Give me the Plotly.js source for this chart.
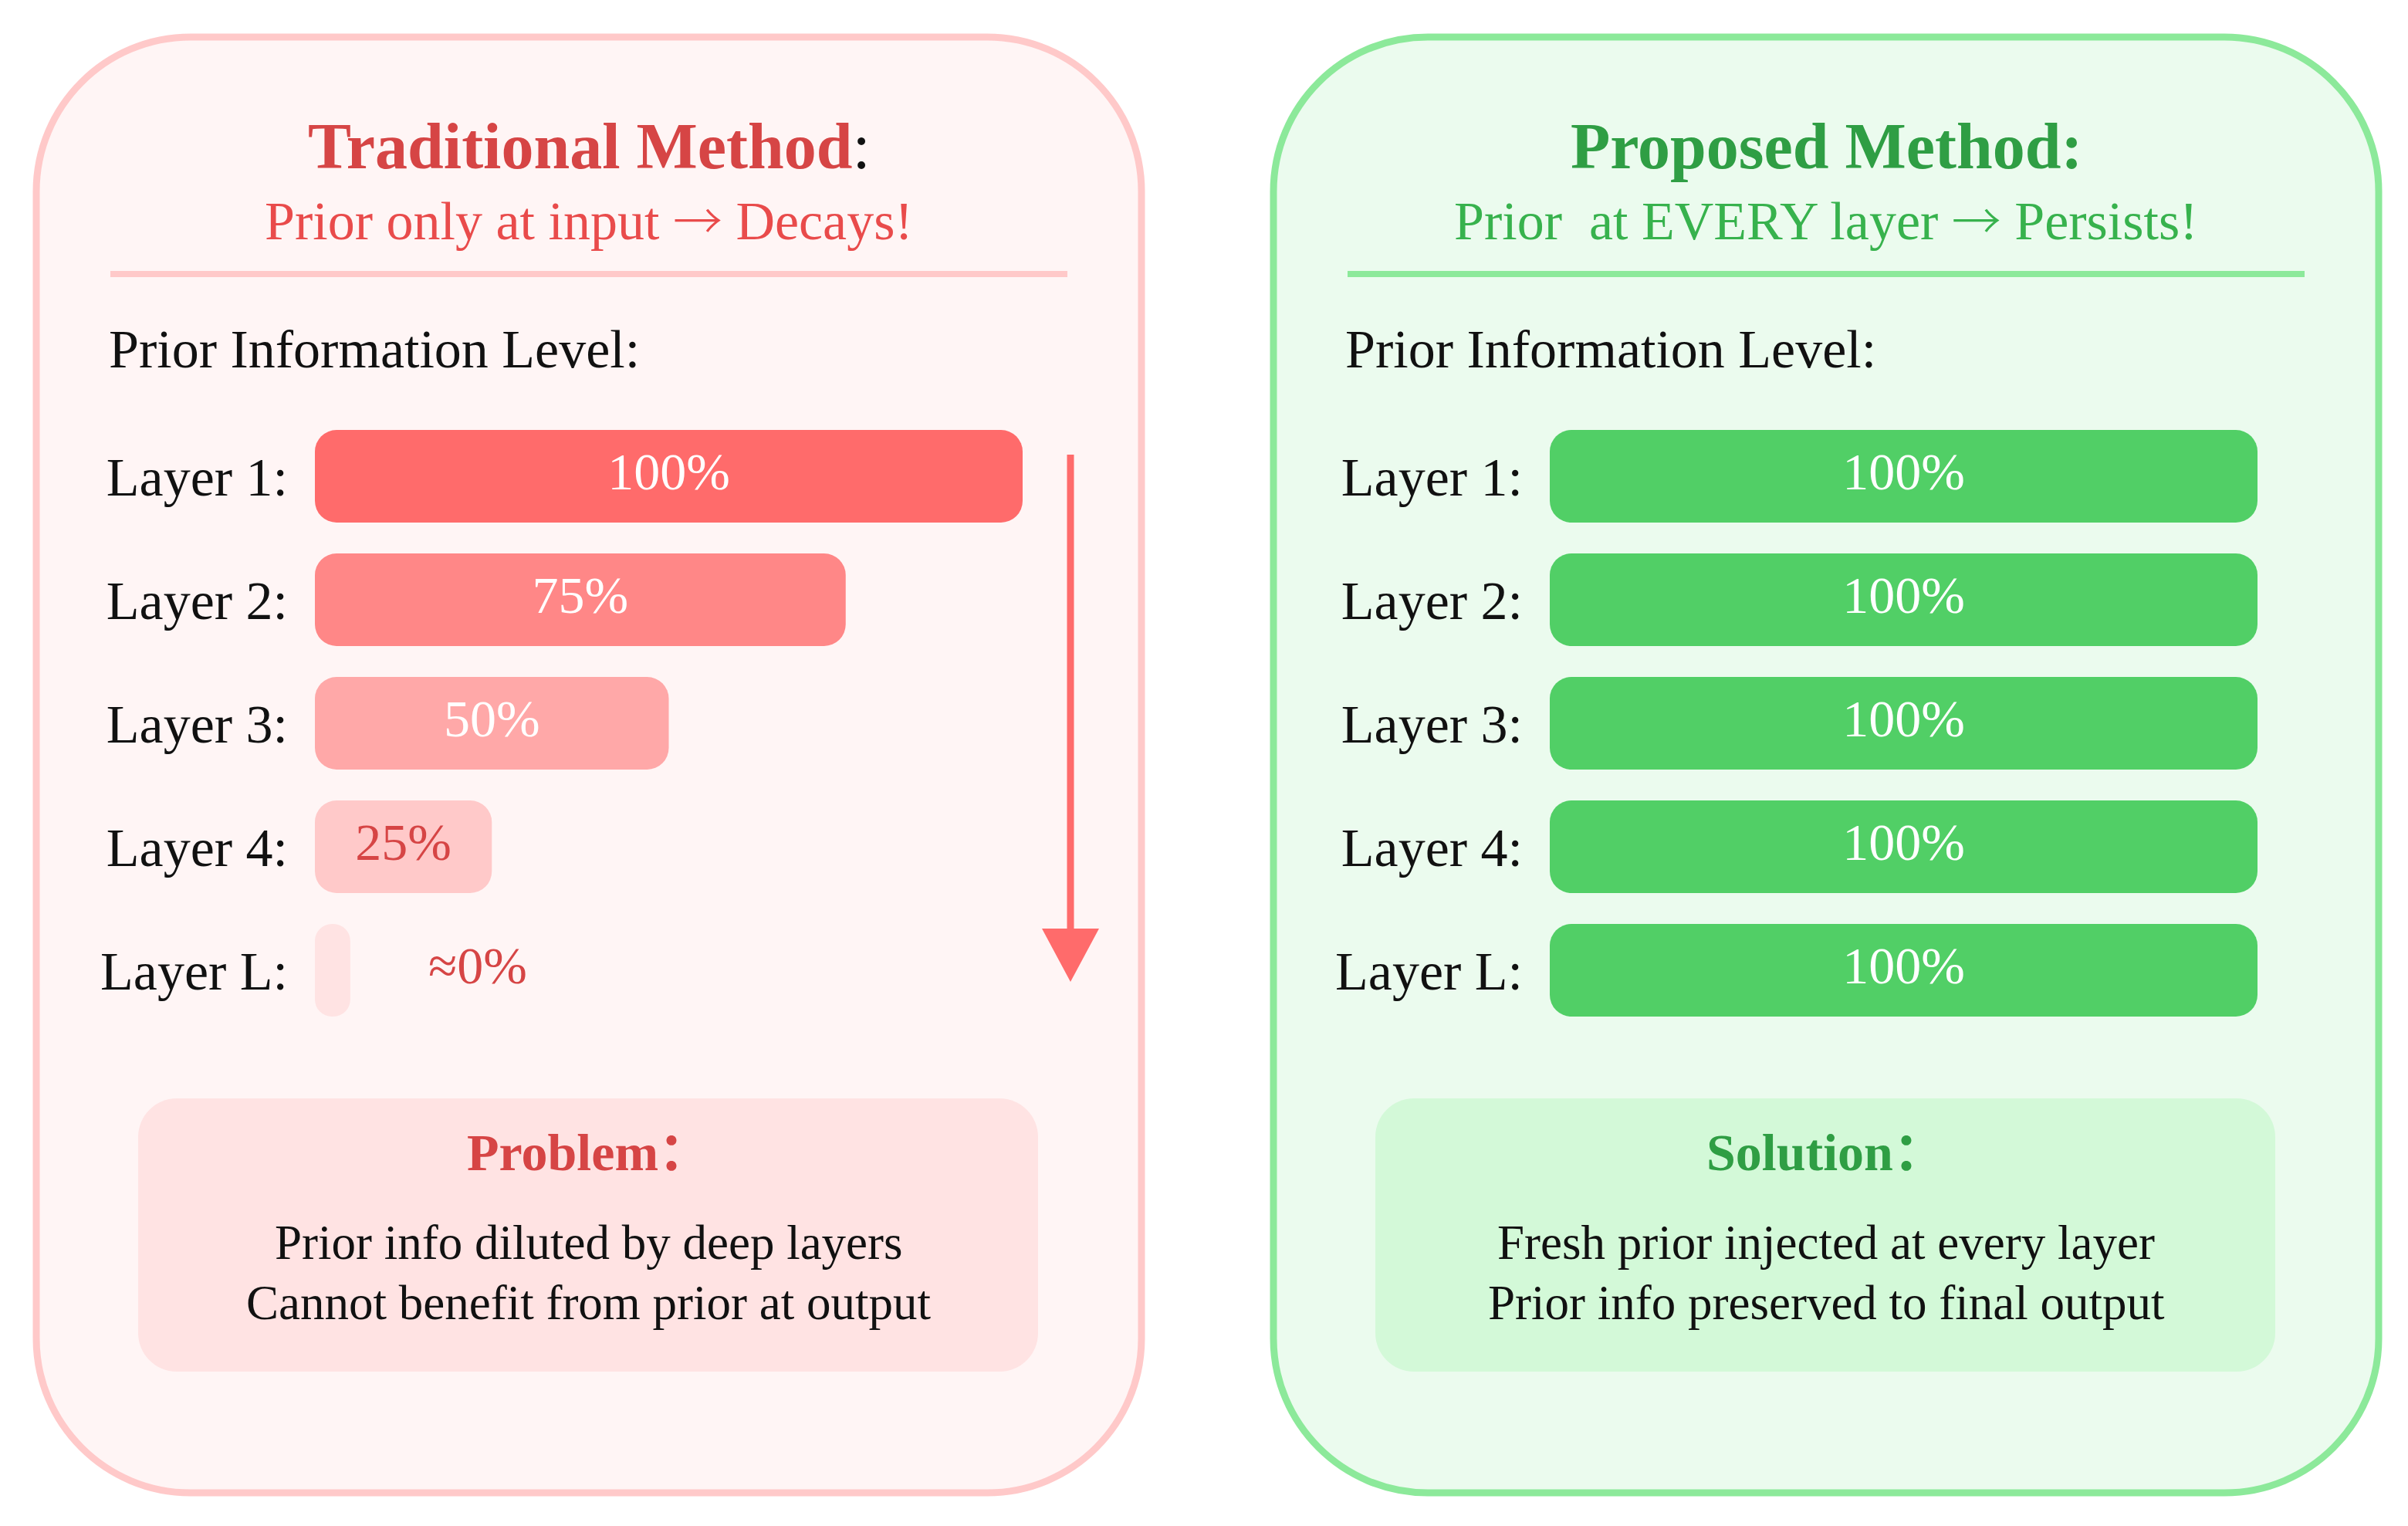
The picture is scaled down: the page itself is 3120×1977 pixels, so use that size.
<!DOCTYPE html>
<html>
<head>
<meta charset="utf-8">
<script src="https://cdn.plot.ly/plotly-3.0.1.min.js"></script>
<style>
  html, body { margin: 0; padding: 0; background: #ffffff; }
  #chart { width: 3120px; height: 1977px; }
</style>
</head>
<body>
<div id="chart"></div>
<script>

/* ==========================================
   DATA
========================================== */

const layerNames = ["Layer 1:", "Layer 2:", "Layer 3:", "Layer 4:", "Layer L:"];

// traditional: prior only at input, decays layer by layer
const tradLevels = [100, 75, 50, 25, 5];
const tradLabels = ["100%", "75%", "50%", "25%", "≈0%"];

// proposed: prior injected at every layer
const propLevels = [100, 100, 100, 100, 100];
const propLabels = ["100%", "100%", "100%", "100%", "100%"];

const tradPalette = ["#ff6b6b", "#ff8787", "#ffa8a8", "#ffc9c9", "#ffe3e3"];
const propPalette = ["#51cf66", "#51cf66", "#51cf66", "#51cf66", "#51cf66"];


/* ==========================================
   HELPERS
========================================== */

const W = 3120;
const H = 1977;
const SERIF = "Liberation Serif, Times New Roman, Noto Sans CJK SC, serif";
const ARROW = "<span style='font-family:Noto Sans CJK SC;font-weight:300;font-size:64px'>→</span>";

function roundRect(x0, y0, x1, y1, r){

    const k = 0.5523 * r;

    return "M" + (x0 + r) + "," + y0 +
        " L" + (x1 - r) + "," + y0 +
        " C" + (x1 - r + k) + "," + y0 + " " + x1 + "," + (y0 + r - k) + " " + x1 + "," + (y0 + r) +
        " L" + x1 + "," + (y1 - r) +
        " C" + x1 + "," + (y1 - r + k) + " " + (x1 - r + k) + "," + y1 + " " + (x1 - r) + "," + y1 +
        " L" + (x0 + r) + "," + y1 +
        " C" + (x0 + r - k) + "," + y1 + " " + x0 + "," + (y1 - r + k) + " " + x0 + "," + (y1 - r) +
        " L" + x0 + "," + (y0 + r) +
        " C" + x0 + "," + (y0 + r - k) + " " + (x0 + r - k) + "," + y0 + " " + (x0 + r) + "," + y0 + " Z";

}

// giving the bars an explicit base makes plotly round both ends
function pillTrace(levels, colors, xa, ya){

    return {
        type: "bar",
        orientation: "h",
        y: layerNames,
        x: levels,
        base: levels.map(() => 0),
        marker: { color: colors, cornerradius: 28, line: { width: 0 } },
        xaxis: xa, yaxis: ya,
        hoverinfo: "skip",
        showlegend: false
    };

}

function labelTrace(levels, labels, darkColor, xa, ya){

    return {
        type: "scatter",
        mode: "text",
        y: layerNames,
        x: levels.map(v => v >= 20 ? v / 2 : v + 18),
        text: labels,
        textposition: "middle center",
        textfont: {
            family: SERIF,
            size: 68,
            color: levels.map(v => v >= 50 ? "#ffffff" : darkColor)
        },
        xaxis: xa, yaxis: ya,
        hoverinfo: "skip",
        showlegend: false
    };

}


/* ==========================================
   LAYOUT PIECES
========================================== */

const panelW = 1432;
const panels = [
    { x0: 47, border: "#ffc9c9", fill: "#fff5f5", box: "#ffe3e3" },
    { x0: 1650, border: "#8ce99a", fill: "#ebfbee", box: "#d3f9d8" }
];

let shapes = [];

panels.forEach(p => {

    shapes.push({
        type: "path", xref: "x", yref: "y", layer: "below",
        path: roundRect(p.x0, 48, p.x0 + panelW, 1934, 200),
        fillcolor: p.fill,
        line: { color: p.border, width: 9 }
    });

    shapes.push({
        type: "line", xref: "x", yref: "y", layer: "below",
        x0: p.x0 + 96, x1: p.x0 + 1336, y0: 355, y1: 355,
        line: { color: p.border, width: 8 }
    });

    shapes.push({
        type: "path", xref: "x", yref: "y", layer: "below",
        path: roundRect(p.x0 + 132, 1423, p.x0 + 1298, 1777, 50),
        fillcolor: p.box,
        line: { width: 0 }
    });

});

// decay arrow
shapes.push({
    type: "line", xref: "x", yref: "y",
    x0: 1387, x1: 1387, y0: 589, y1: 1215,
    line: { color: "#ff6b6b", width: 9 }
});

shapes.push({
    type: "path", xref: "x", yref: "y",
    path: "M1350,1203 L1424,1203 L1387,1272 Z",
    fillcolor: "#ff6b6b",
    line: { width: 0 }
});


function note(x, y, text, size, color, anchor){

    return {
        xref: "x", yref: "y",
        x: x, y: y,
        text: text,
        showarrow: false,
        xanchor: anchor || "center",
        yanchor: "middle",
        font: { family: SERIF, size: size, color: color }
    };

}

const redDark = "#d64545";
const greenDark = "#2f9e44";

const annotations = [

    note(763, 189, "<b>Traditional Method</b><span style='color:#111111'>:</span>", 84, redDark),
    note(763, 282, "Prior only at input " + ARROW + " Decays!", 70, "#e94b4b"),
    note(139, 452, "Prior Information Level:", 70, "#111111", "left"),
    note(763, 1493, "<b>Problem：</b>", 68, redDark),
    note(763, 1610, "Prior info diluted by deep layers", 63, "#111111"),
    note(763, 1688, "Cannot benefit from prior at output", 63, "#111111"),

    note(2366, 189, "<b>Proposed Method:</b>", 84, greenDark),
    note(2366, 282, "Prior  at EVERY layer " + ARROW + " Persists!", 70, "#37b24d"),
    note(1741, 452, "Prior Information Level:", 70, "#111111", "left"),
    note(2366, 1493, "<b>Solution：</b>", 68, greenDark),
    note(2366, 1610, "Fresh prior injected at every layer", 63, "#111111"),
    note(2366, 1688, "Prior info preserved to final output", 63, "#111111")

];


/* ==========================================
   AXES
========================================== */

const barDomainY = [1 - 1337 / H, 1 - 537 / H];

function valueAxis(x0, x1, anchor){

    return {
        domain: [x0 / W, x1 / W],
        range: [0, 100],
        anchor: anchor,
        visible: false,
        fixedrange: true
    };

}

function layerAxis(anchor){

    return {
        domain: barDomainY,
        anchor: anchor,
        type: "category",
        categoryorder: "array",
        categoryarray: layerNames,
        range: [4.5, -0.5],
        showgrid: false,
        zeroline: false,
        showline: false,
        ticks: "",
        ticklabelstandoff: 34,
        tickfont: { family: SERIF, size: 70, color: "#111111" },
        fixedrange: true
    };

}


/* ==========================================
   DRAW
========================================== */

const frame = {
    type: "scatter", mode: "markers",
    x: [0], y: [0],
    marker: { opacity: 0 },
    hoverinfo: "skip",
    showlegend: false
};

const data = [
    frame,
    pillTrace(tradLevels, tradPalette, "x2", "y2"),
    labelTrace(tradLevels, tradLabels, redDark, "x2", "y2"),
    pillTrace(propLevels, propPalette, "x3", "y3"),
    labelTrace(propLevels, propLabels, greenDark, "x3", "y3")
];

const layout = {
    width: W,
    height: H,
    margin: { l: 0, r: 0, t: 0, b: 0 },
    paper_bgcolor: "#ffffff",
    plot_bgcolor: "rgba(0,0,0,0)",
    showlegend: false,
    barmode: "overlay",
    bargap: 0.25,
    xaxis: { domain: [0, 1], range: [0, W], visible: false, fixedrange: true },
    yaxis: { domain: [0, 1], range: [H, 0], visible: false, fixedrange: true },
    xaxis2: valueAxis(408, 1325, "y2"),
    yaxis2: layerAxis("x2"),
    xaxis3: valueAxis(2008, 2925, "y3"),
    yaxis3: layerAxis("x3"),
    shapes: shapes,
    annotations: annotations
};

Plotly.newPlot("chart", data, layout, { displayModeBar: false, responsive: false });

</script>
</body>
</html>
